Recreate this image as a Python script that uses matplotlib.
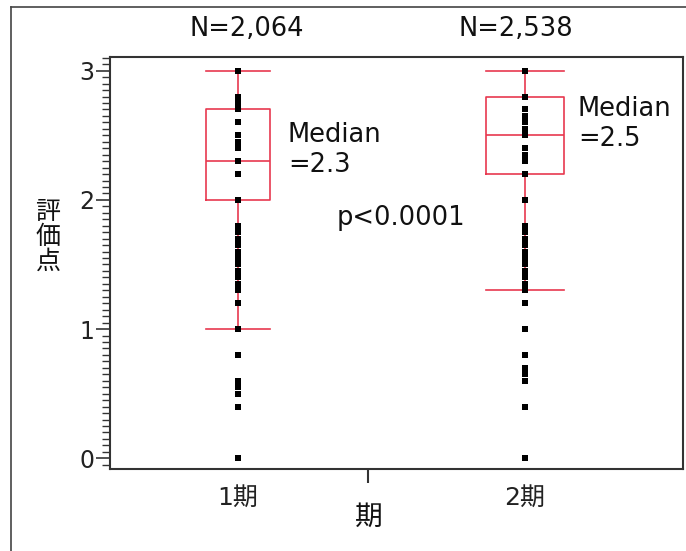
import numpy as np
import matplotlib
matplotlib.use("Agg")
import matplotlib.pyplot as plt
from matplotlib.lines import Line2D
from matplotlib.ticker import MultipleLocator, FixedLocator

plt.rcParams['font.family'] = ['DejaVu Sans', 'Noto Sans CJK JP']

# ---- data ----
categories = ['1期', '2期']
n_labels = ['N=2,064', 'N=2,538']
scores_p1 = [3.0, 2.8, 2.75, 2.7, 2.6, 2.5, 2.45, 2.4, 2.3, 2.2, 2.0, 1.8, 1.75, 1.7,
             1.65, 1.6, 1.55, 1.5, 1.45, 1.4, 1.35, 1.3, 1.2, 1.0, 0.8, 0.6, 0.55,
             0.5, 0.4, 0.0]
scores_p2 = [3.0, 2.8, 2.7, 2.65, 2.6, 2.55, 2.5, 2.4, 2.35, 2.3, 2.2, 2.0, 1.8, 1.75,
             1.7, 1.65, 1.6, 1.55, 1.5, 1.45, 1.4, 1.35, 1.3, 1.2, 1.0, 0.8, 0.7,
             0.65, 0.6, 0.4, 0.0]
medians = [2.3, 2.5]
q1s = [2.0, 2.2]
q3s = [2.7, 2.8]
whisk_lo = [1.0, 1.3]
whisk_hi = [3.0, 3.0]
median_labels = ['Median\n=2.3', 'Median\n=2.5']
p_label = 'p<0.0001'
y_label = '評\n価\n点'
x_label = '期'

RED = '#E8384F'
DARK = '#333333'

fig = plt.figure(figsize=(6.86, 5.51), dpi=100)
ax = fig.add_axes([110/686, 1-469/551, (683-110)/686, (469-57)/551])

positions = [0, 1]
widths = [0.226, 0.272]

stats = []
for i in range(2):
    stats.append(dict(med=medians[i], q1=q1s[i], q3=q3s[i],
                      whislo=whisk_lo[i], whishi=whisk_hi[i], fliers=[]))
lp = dict(color=RED, linewidth=1.2)
ax.bxp(stats, positions=positions, widths=widths, capwidths=widths,
       showfliers=False, boxprops=lp, medianprops=lp, whiskerprops=lp,
       capprops=lp, manage_ticks=False, zorder=2)

for pos, vals in zip(positions, [scores_p1, scores_p2]):
    ax.plot(np.full(len(vals), pos), vals, 's', ms=4.3, color='black',
            markeredgewidth=0, zorder=3)

ax.set_xlim(-0.446, 1.551)
ax.set_ylim(-0.083, 3.106)

# y axis ticks
ax.yaxis.set_major_locator(FixedLocator([0, 1, 2, 3]))
ax.yaxis.set_minor_locator(MultipleLocator(0.05))
ax.tick_params(axis='y', which='major', length=10, width=1.2, color=DARK,
               labelsize=17, labelcolor='#222222', pad=1.5, direction='out')
ax.tick_params(axis='y', which='minor', length=5.5, width=1.0, color=DARK,
               direction='out')

# x axis: labels at categories, one separator tick
ax.set_xticks(positions)
ax.set_xticklabels(categories)
ax.xaxis.set_minor_locator(FixedLocator([0.452]))
ax.tick_params(axis='x', which='major', length=0, labelsize=18,
               labelcolor='#222222', pad=12)
ax.tick_params(axis='x', which='minor', length=10, width=1.5, color=DARK,
               direction='out')

for s in ax.spines.values():
    s.set_color(DARK)
    s.set_linewidth(1.5)

# N labels above plot
for pos, t in zip([0.031, 0.969], n_labels):
    ax.text(pos, 3.32, t, ha='center', va='center', fontsize=18.5,
            color='#111111', clip_on=False)

# median annotations
ax.text(0.174, 2.39, median_labels[0], ha='left', va='center', fontsize=18.5,
        color='#111111', linespacing=1.2)
ax.text(1.185, 2.585, median_labels[1], ha='left', va='center', fontsize=18.5,
        color='#111111', linespacing=1.2)
ax.text(0.345, 1.86, p_label, ha='left', va='center', fontsize=18.5,
        color='#111111')

# axis labels
fig.text(48/686, 1-237/551, y_label, ha='center', va='center', fontsize=18,
         linespacing=1.05, color='#111111')
fig.text(369/686, 1-517/551, x_label, ha='center', va='center', fontsize=20,
         color='#111111')

# outer frame lines (left and top)
fig.add_artist(Line2D([11/686, 11/686], [0, 1-7/551], transform=fig.transFigure,
                      color='#444444', linewidth=1.2))
fig.add_artist(Line2D([11/686, 1], [1-7/551, 1-7/551], transform=fig.transFigure,
                      color='#444444', linewidth=1.2))

fig.savefig('out.png', dpi=100)
